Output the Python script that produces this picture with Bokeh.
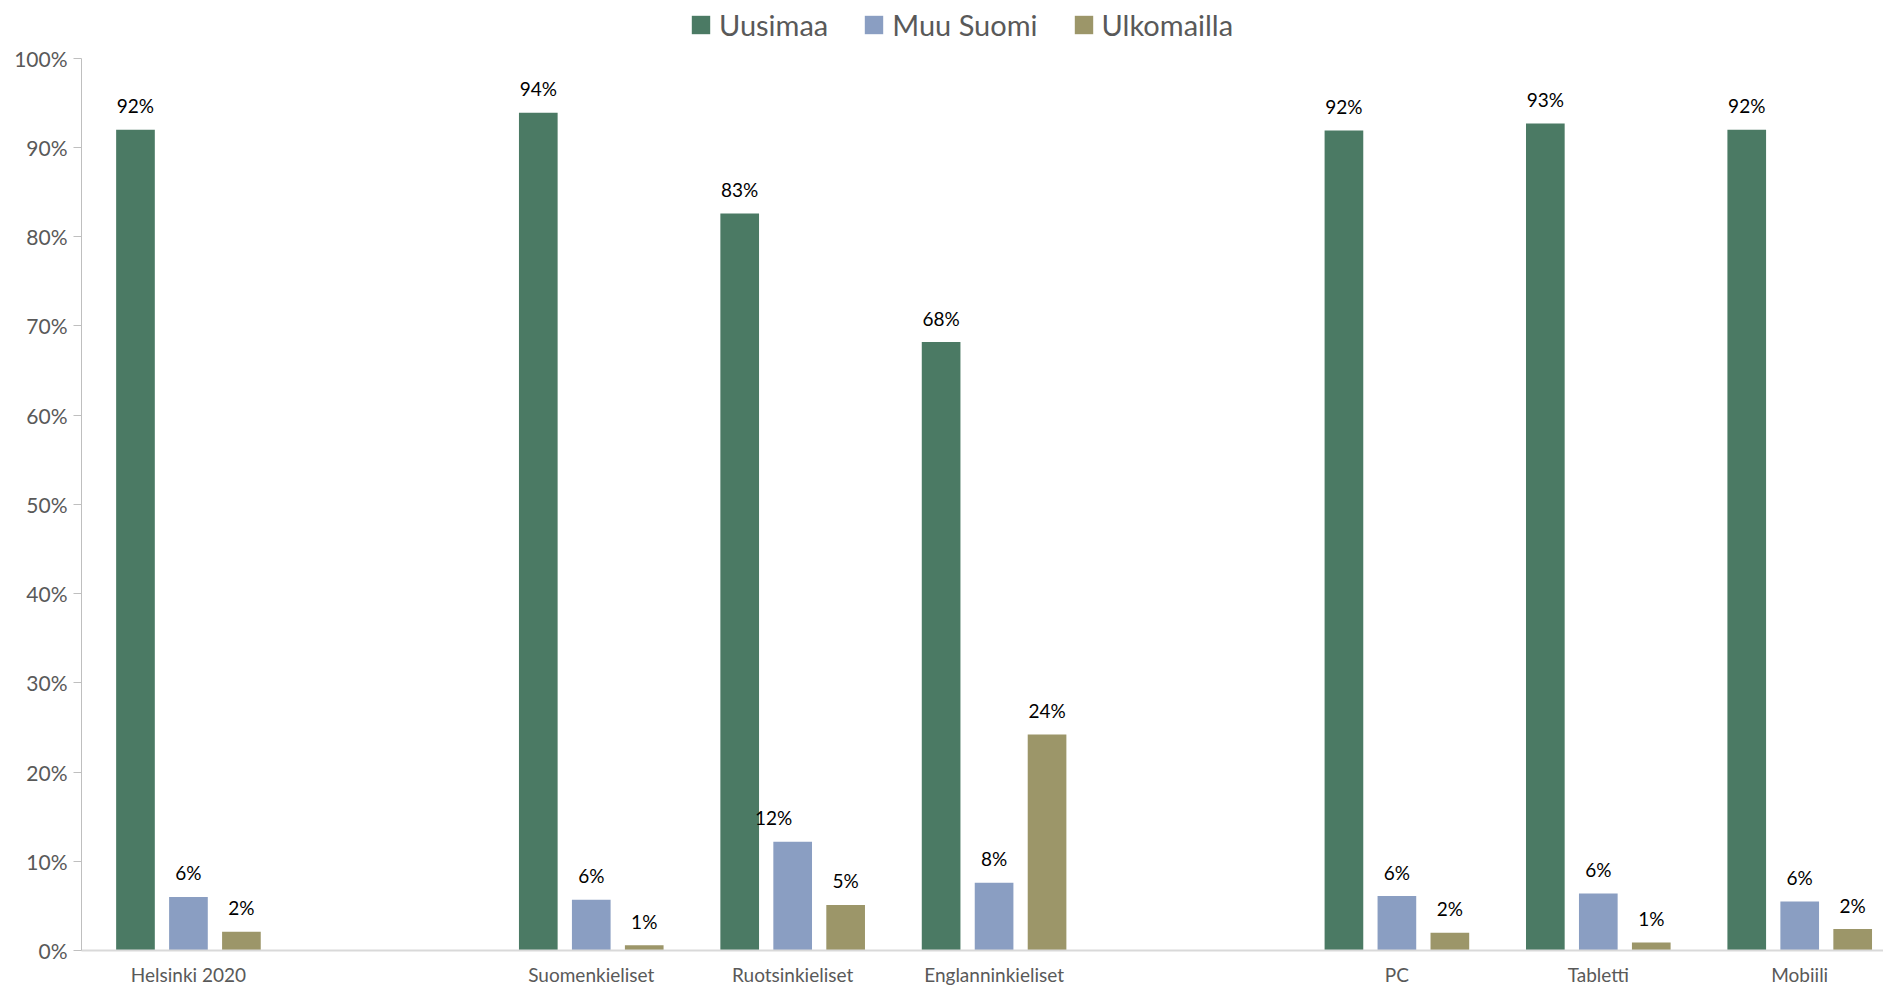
from bokeh.plotting import figure
from bokeh.models import (ColumnDataSource, Range1d, FixedTicker, NumeralTickFormatter,
                          LabelSet, Legend, LegendItem)
from bokeh.core.properties import value
from bokeh.transform import dodge
from bokeh.embed import file_html
from bokeh.resources import INLINE

# ---- data -------------------------------------------------------------
categories = ["Helsinki 2020", "Suomenkieliset", "Ruotsinkieliset", "Englanninkieliset",
              "PC", "Tabletti", "Mobiili"]
# category slots on the axis; None = empty slot separating groups
slot_order = ["Helsinki 2020", None, "Suomenkieliset", "Ruotsinkieliset", "Englanninkieliset",
              None, "PC", "Tabletti", "Mobiili"]
series_names = ["Uusimaa", "Muu Suomi", "Ulkomailla"]
uusimaa = [0.920, 0.939, 0.826, 0.682, 0.919, 0.927, 0.920]
muu_suomi = [0.060, 0.057, 0.122, 0.076, 0.061, 0.064, 0.055]
ulkomailla = [0.021, 0.006, 0.051, 0.242, 0.020, 0.009, 0.024]
y_ticks = [i / 10 for i in range(11)]

# ---- style ------------------------------------------------------------
COLORS = ["#4B7A64", "#8A9EC2", "#9C9669"]
FONT = "Lato"
GREY = "#595959"
OFFSETS = [-0.263, 0.0, 0.263]
BAR_W = 0.192
LABEL_NUDGE = {("Ruotsinkieliset", "Muu Suomi"): -19}

xpos = [slot_order.index(c) + 0.5 for c in categories]
series_vals = [uusimaa, muu_suomi, ulkomailla]

data = {"x": xpos, "cat": categories}
for name, vals in zip(series_names, series_vals):
    data[name] = vals
    data[name + "_lbl"] = [f"{round(v * 100)}%" for v in vals]
    data[name + "_dx"] = [LABEL_NUDGE.get((c, name), 0) for c in categories]
src = ColumnDataSource(data)

# frame: top at canvas top, 100% tick 58px below, 0% at the frame bottom
FRAME_H = 953
p = figure(width=1883, height=988, output_backend="svg", toolbar_location=None,
           x_range=Range1d(-0.031, 8.916), y_range=Range1d(0, 1 + 58 / (FRAME_H - 58)),
           min_border_left=81, min_border_right=0, min_border_top=0,
           min_border_bottom=988 - FRAME_H)
p.outline_line_color = None
p.xgrid.grid_line_color = None
p.ygrid.grid_line_color = None
p.background_fill_color = "white"
p.border_fill_color = "white"

items = []
for name, color, off in zip(series_names, COLORS, OFFSETS):
    r = p.vbar(x=dodge("x", off, range=p.x_range), top=name, width=BAR_W, source=src,
               fill_color=color, line_color=None)
    items.append(LegendItem(label=name, renderers=[r]))
    lbl = LabelSet(x=dodge("x", off, range=p.x_range), y=name, text=name + "_lbl",
                   x_offset=name + "_dx", y_offset=24, source=src,
                   text_align="center", text_baseline="middle",
                   text_font=value(FONT), text_font_size=value("19px"),
                   text_color=value("#000000"))
    p.add_layout(lbl)

# y axis
p.yaxis.ticker = FixedTicker(ticks=y_ticks)
p.yaxis.bounds = (0, 1)
p.yaxis.formatter = NumeralTickFormatter(format="0%")
p.yaxis.axis_line_color = "#BFBFBF"
p.yaxis.major_tick_line_color = "#BFBFBF"
p.yaxis.major_tick_out = 8
p.yaxis.major_tick_in = 0
p.yaxis.minor_tick_line_color = None
p.yaxis.major_label_text_font = FONT
p.yaxis.major_label_text_font_size = "21px"
p.yaxis.major_label_text_color = GREY
p.yaxis.major_label_standoff = 6

# x axis
p.xaxis.ticker = FixedTicker(ticks=xpos)
p.xaxis.major_label_overrides = {x: c for x, c in zip(xpos, categories)}
p.xaxis.axis_line_color = "#D9D9D9"
p.xaxis.axis_line_width = 2
p.xaxis.major_tick_line_color = None
p.xaxis.minor_tick_line_color = None
p.xaxis.major_tick_out = 0
p.xaxis.major_tick_in = 0
p.xaxis.major_label_text_font = FONT
p.xaxis.major_label_text_font_size = "19px"
p.xaxis.major_label_text_color = GREY
p.xaxis.major_label_standoff = 12

legend = Legend(items=items, orientation="horizontal", location=(608, FRAME_H - 45),
                glyph_width=23, glyph_height=23, label_standoff=7, spacing=34,
                padding=0, margin=0, border_line_color=None, background_fill_alpha=0,
                label_text_font=FONT, label_text_font_size="29px",
                label_text_color=GREY)
p.add_layout(legend, "center")

open("out.html", "w").write(file_html(p, INLINE))
